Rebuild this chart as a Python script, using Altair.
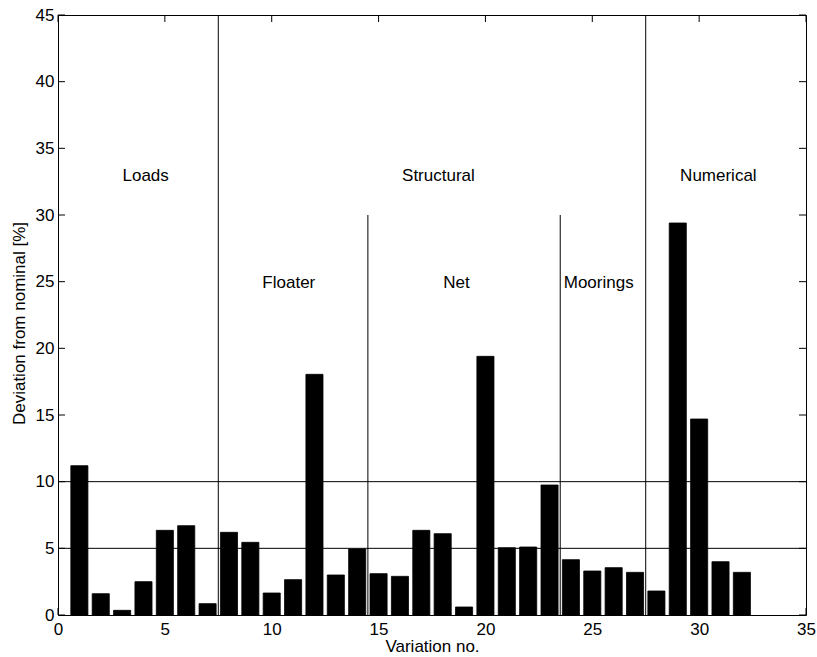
import altair as alt
import pandas as pd

# ---- data ----
variation = list(range(1, 33))
deviation = [11.2, 1.6, 0.35, 2.5, 6.35, 6.7, 0.85, 6.2, 5.45, 1.65, 2.65, 18.05,
             3.0, 4.95, 3.1, 2.9, 6.35, 6.1, 0.6, 19.4, 5.05, 5.1, 9.75, 4.15,
             3.3, 3.55, 3.2, 1.8, 29.4, 14.7, 4.0, 3.2]

x_ticks = [0, 5, 10, 15, 20, 25, 30, 35]
y_ticks = [0, 5, 10, 15, 20, 25, 30, 35, 40, 45]

sep_x = [7.5, 14.5, 23.5, 27.5]
sep_top = [45, 30, 30, 45]
ref_y = [5, 10]

label_text = ["Loads", "Structural", "Numerical", "Floater", "Net", "Moorings"]
label_x = [4.1, 17.8, 30.9, 10.8, 18.65, 25.3]
label_y = [32.9, 32.9, 32.9, 24.9, 24.9, 24.9]

# ---- layout ----
W, H = 748, 600
FONT = "Liberation Sans"
FS = 17
TICK = 7

bars_df = pd.DataFrame({"v": variation, "dev": deviation})
sep_df = pd.DataFrame({"sx": sep_x, "top": sep_top})
ref_df = pd.DataFrame({"ry": ref_y})
xt_df = pd.DataFrame({"t": x_ticks})
yt_df = pd.DataFrame({"t": y_ticks})
lab_df = pd.DataFrame({"text": label_text, "lx": label_x, "ly": label_y})

xs = alt.Scale(domain=[0, 35], nice=False, zero=False)
ys = alt.Scale(domain=[0, 45], nice=False, zero=False)
XT = "Variation no."
YT = "Deviation from nominal [%]"
xa = alt.Axis(values=x_ticks, format="d", labelPadding=6, titlePadding=1,
              labelFlush=False, labelOverlap=False)
ya = alt.Axis(values=y_ticks, format="d", labelPadding=4, titlePadding=7,
              labelFlush=False, labelOverlap=False, titleY=308)


def X(field):
    return alt.X(field, scale=xs, axis=xa, title=XT)


def Y(field):
    return alt.Y(field, scale=ys, axis=ya, title=YT)


bars = alt.Chart(bars_df).transform_calculate(
    x0="datum.v - 0.4", x1="datum.v + 0.4", y0="0"
).mark_rect(color="black", stroke="black", strokeWidth=0.8).encode(
    x=X("x0:Q"), x2="x1:Q", y=Y("dev:Q"), y2="y0:Q",
)

seps = alt.Chart(sep_df).transform_calculate(y0="0").mark_rule(
    color="black", strokeWidth=1
).encode(x=X("sx:Q"), y=Y("y0:Q"), y2="top:Q")

refs = alt.Chart(ref_df).mark_rule(color="black", strokeWidth=1).encode(y=Y("ry:Q"))

xt_bottom = alt.Chart(xt_df).mark_rule(color="black", strokeWidth=1).encode(
    x=X("t:Q"), y=alt.value(H), y2=alt.value(H - TICK)
)
xt_top = alt.Chart(xt_df).mark_rule(color="black", strokeWidth=1).encode(
    x=X("t:Q"), y=alt.value(0), y2=alt.value(TICK)
)
yt_left = alt.Chart(yt_df).mark_rule(color="black", strokeWidth=1).encode(
    y=Y("t:Q"), x=alt.value(0), x2=alt.value(TICK)
)
yt_right = alt.Chart(yt_df).mark_rule(color="black", strokeWidth=1).encode(
    y=Y("t:Q"), x=alt.value(W), x2=alt.value(W - TICK)
)

labels = alt.Chart(lab_df).mark_text(
    font=FONT, fontSize=FS, color="black", align="center", baseline="middle"
).encode(x=X("lx:Q"), y=Y("ly:Q"), text="text:N")

chart = alt.layer(
    bars, refs, seps, xt_bottom, xt_top, yt_left, yt_right, labels
).properties(
    width=W, height=H,
    autosize=alt.AutoSizeParams(type="none"),
    padding={"left": 58, "top": 15, "right": 11, "bottom": 42},
    background="white",
).configure_view(
    stroke="black", strokeWidth=1
).configure_axis(
    domain=False, ticks=False, grid=False,
    labelFont=FONT, labelFontSize=FS, labelColor="black",
    titleFont=FONT, titleFontSize=FS, titleFontWeight="normal", titleColor="black",
)

chart.save("out.html", embed_options={"renderer": "svg", "actions": False})
